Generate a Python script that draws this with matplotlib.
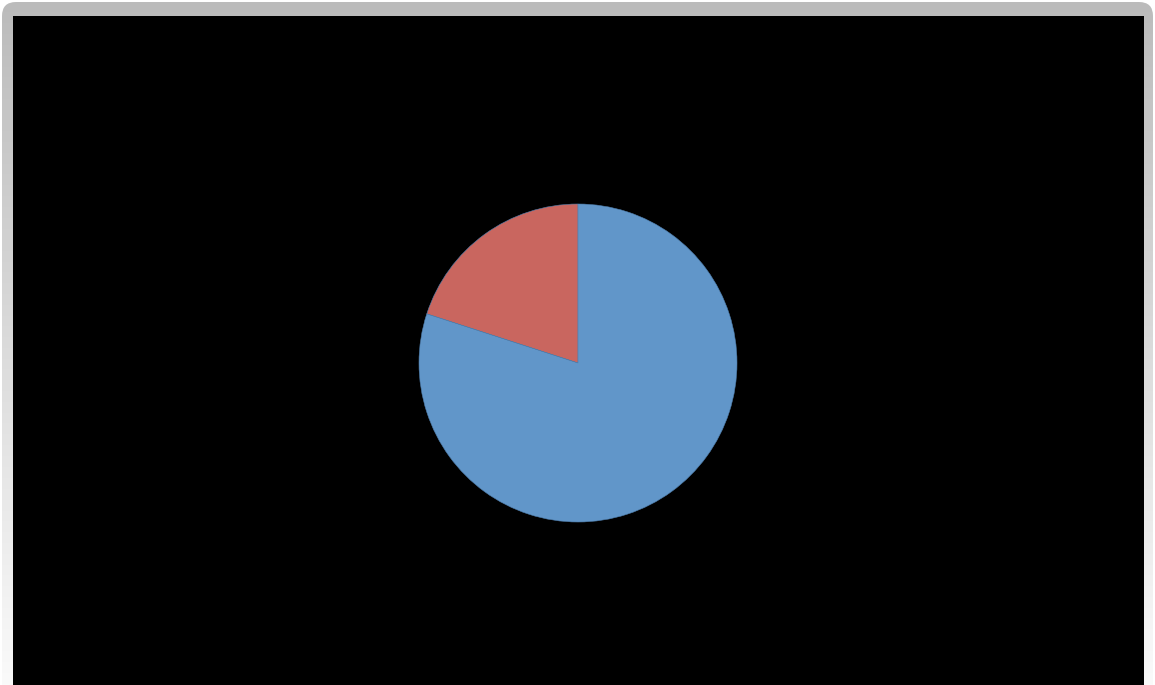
import matplotlib
matplotlib.use("Agg")
import matplotlib.pyplot as plt
import numpy as np
from matplotlib.patches import FancyBboxPatch

labels = ["B", "A"]
values = [20, 80]
colors = ["#C9665F", "#6196C9"]

W, H = 1155, 685
fig = plt.figure(figsize=(W / 100, H / 100), dpi=100, facecolor="white")

# background frame with vertical gradient
bg = fig.add_axes([0, 0, 1, 1])
bg.axis("off")
grad = np.linspace(0, 1, 256).reshape(-1, 1)
top, bot = 0xBB / 255, 0xFA / 255
img = top + (bot - top) * grad
img = np.dstack([img, img, img])
im = bg.imshow(img, extent=[0, W, H, 0], aspect="auto")
bg.set_xlim(0, W)
bg.set_ylim(H, 0)
clip = FancyBboxPatch((2, 2), W - 4, H + 30, boxstyle="round,pad=0,rounding_size=14",
                      transform=bg.transData, facecolor="none", edgecolor="none")
bg.add_patch(clip)
im.set_clip_path(clip)

# black panel
panel = fig.add_axes([13 / W, 0, (1144 - 13) / W, (H - 16) / H])
panel.set_facecolor("black")
panel.set_xticks([])
panel.set_yticks([])
for s in panel.spines.values():
    s.set_visible(False)

# pie
cx, cy, r = 578, 363, 159
pax = fig.add_axes([(cx - r) / W, (H - cy - r) / H, 2 * r / W, 2 * r / H])
pax.pie(values, colors=colors, startangle=90, counterclock=True, radius=1,
        wedgeprops=dict(edgecolor="#4f7fae", linewidth=0.4))
pax.set_xlim(-1, 1)
pax.set_ylim(-1, 1)
pax.axis("off")

fig.savefig("out.png", dpi=100, facecolor="white")
